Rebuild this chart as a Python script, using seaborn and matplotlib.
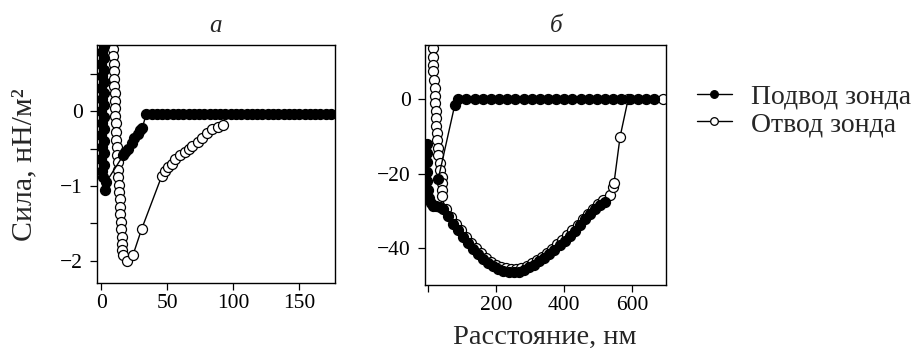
import numpy as np
import pandas as pd
import seaborn as sns
import matplotlib
matplotlib.use("Agg")
import matplotlib.pyplot as plt
from matplotlib.lines import Line2D

# ---------------- data: panel a ----------------
# approach (Подвод), flat part, jump and contact column
a_app_x = [174, 170, 166, 162, 158, 154, 150, 146, 142, 138, 134, 130, 126, 122,
           118, 114, 110, 106, 102, 98, 94, 90, 86, 82, 78, 74, 70, 66, 62, 58,
           54, 50, 46, 42, 38, 34,
           31, 29.5, 27.5, 25, 23, 20, 17.8, 16.5, 3.5, 2.7,
           1.5, 0.2, 2.0, 0.0, 1.8, 0.2, 2.0, 0.0, 1.8, 0.2, 2.0, 0.0, 1.8, 0.2,
           2.0, 0.0, 1.8, 0.2, 2.0, 0.0, 1.8, 0.2, 2.0, 1.0, 1.0]
a_app_y = [-0.03, -0.03, -0.03, -0.03, -0.03, -0.03, -0.03, -0.03, -0.03, -0.03,
           -0.03, -0.03, -0.03, -0.03, -0.03, -0.03, -0.03, -0.03, -0.03, -0.03,
           -0.03, -0.03, -0.03, -0.03, -0.03, -0.03, -0.03, -0.03, -0.03, -0.03,
           -0.03, -0.03, -0.03, -0.03, -0.03, -0.03,
           -0.22, -0.25, -0.30, -0.36, -0.43, -0.50, -0.55, -0.59, -0.95, -1.05,
           -0.88, -0.80, -0.72, -0.64, -0.56, -0.48, -0.40, -0.32, -0.24, -0.16,
           -0.08, 0.00, 0.08, 0.16, 0.24, 0.32, 0.40, 0.48, 0.56, 0.64, 0.72,
           0.80, 0.88, 0.96, 1.04]
# retract (Отвод)
a_ret_x = [9.0, 9.1, 9.2, 9.4, 9.5, 9.7, 9.9, 10.1, 10.3, 10.5, 10.7, 11.0, 11.3,
           11.6, 11.9, 12.2, 12.5, 12.8, 13.1, 13.4, 13.7, 14.0, 14.3, 14.6, 14.9,
           15.2, 15.5, 15.8, 16.5, 19.0, 24.0, 30.4, 45.6, 47.8, 50.5, 53.5, 56.0,
           59.5, 63.0, 66.0, 69.0, 73.0, 76.5, 80.0, 84.0, 88.0, 92.0]
a_ret_y = [0.84, 0.74, 0.64, 0.54, 0.44, 0.34, 0.24, 0.14, 0.04, -0.06, -0.16,
           -0.27, -0.38, -0.48, -0.58, -0.68, -0.78, -0.88, -0.98, -1.08, -1.18,
           -1.28, -1.38, -1.48, -1.58, -1.68, -1.78, -1.86, -1.93, -2.01, -1.92,
           -1.58, -0.87, -0.80, -0.75, -0.70, -0.64, -0.59, -0.55, -0.50, -0.46,
           -0.41, -0.35, -0.29, -0.24, -0.21, -0.18]

# ---------------- data: panel b ----------------
# approach, segment 1: flat part and jump-in
b_app1_x = [665, 641, 617, 593, 569, 545, 521, 497, 473, 449, 425, 401, 377, 353,
            329, 305, 281, 257, 233, 209, 185, 161, 137, 113, 89, 79, 30]
b_app1_y = [0.1, 0.1, 0.1, 0.1, 0.1, 0.1, 0.1, 0.1, 0.1, 0.1, 0.1, 0.1, 0.1, 0.1,
            0.1, 0.1, 0.1, 0.1, 0.1, 0.1, 0.1, 0.1, 0.1, 0.1, 0.1, -1.5, -21.5]
# approach, segment 2: contact column and adhesion well
b_app2_x = [-3, -3, -3, -2, -2, 0, 3, 8, 15, 25, 35,
            45, 60, 74, 89, 104, 118, 133, 148, 162, 177, 192, 207, 222, 237, 252,
            267, 282, 297, 312, 327, 342, 357, 372, 387, 402, 417, 432, 447, 462,
            477, 492, 507, 522]
b_app2_y = [-12.0, -14.5, -17.0, -19.5, -22.0, -24.5, -26.5, -28.0, -28.6, -28.8,
            -29.0,
            -29.5, -31.5, -33.4, -35.2, -37.0, -38.7, -40.3, -41.7, -42.9, -44.0,
            -44.9, -45.6, -46.1, -46.4, -46.5, -46.3, -45.9, -45.2, -44.4, -43.5,
            -42.6, -41.5, -40.4, -39.2, -38.0, -36.7, -35.4, -33.8, -32.3, -30.8,
            -29.6, -28.5, -27.7]
# retract
b_ret_x = [16, 16, 16, 16, 17, 21, 21, 21, 25, 25, 25, 27, 27, 30, 30, 35, 35, 40,
           40, 42, 40,
           52, 67, 82, 96, 111, 126, 140, 155, 170, 185, 200, 215, 230, 245, 260,
           275, 290, 305, 320, 335, 350, 365, 380, 395, 410, 425, 440, 455, 470,
           485, 500, 515, 535, 545, 547, 565, 589, 692]
b_ret_y = [13.6, 11.4, 9.2, 7.4, 5.2, 3.0, 0.9, -1.0, -3.3, -5.1, -7.3, -9.1, -10.9,
           -13.2, -15.0, -17.2, -19.0, -20.8, -22.6, -24.3, -26.1,
           -29.6, -31.6, -33.5, -35.2, -37.0, -38.6, -40.1, -41.4, -42.6, -43.6,
           -44.4, -45.0, -45.4, -45.6, -45.6, -45.3, -44.8, -44.0, -43.2, -42.3,
           -41.3, -40.2, -39.0, -37.8, -36.5, -35.2, -33.8, -32.3, -30.8, -29.5,
           -28.2, -27.1, -25.8, -23.5, -22.6, -10.1, 0.1, 0.1]

a_xticks = [0, 50, 100, 150]
a_xticklabels = ["0", "50", "100", "150"]
a_yticks = [-2, -1.5, -1, -0.5, 0, 0.5]
a_yticklabels = ["\u22122", "", "\u22121", "", "0", ""]
b_xticks = [0, 200, 400, 600]
b_xticklabels = ["", "200", "400", "600"]
b_yticks = [-40, -20, 0]
b_yticklabels = ["\u221240", "\u221220", "0"]

titles = ["а", "б"]
ylabel = "Сила, нН/м²"
xlabel = "Расстояние, нм"
legend_labels = ["Подвод зонда", "Отвод зонда"]

# ---------------- style ----------------
sns.set_theme(style="ticks")
plt.rcParams["font.family"] = ["Liberation Serif", "DejaVu Serif"]
plt.rcParams["axes.unicode_minus"] = True

W, H = 921, 358
fig = plt.figure(figsize=(W / 100, H / 100), dpi=100)


def px_axes(l, r, t, b):
    return fig.add_axes([l / W, 1 - b / H, (r - l) / W, (b - t) / H])


ax_a = px_axes(96.7, 335, 45, 283)
ax_b = px_axes(425, 666, 45, 285)

MS = 7.2
common = dict(sort=False, estimator=None, color="black", marker="o",
              markersize=MS, markeredgecolor="black", markeredgewidth=0.9,
              linewidth=1.0, legend=False)


def draw(ax, x, y, filled, z):
    sns.lineplot(x=x, y=y, ax=ax, markerfacecolor="black" if filled else "white",
                 zorder=z, **common)


draw(ax_a, a_ret_x, a_ret_y, False, 2)
draw(ax_a, a_app_x, a_app_y, True, 3)
draw(ax_b, b_ret_x, b_ret_y, False, 2)
draw(ax_b, b_app1_x, b_app1_y, True, 3)
draw(ax_b, b_app2_x, b_app2_y, True, 3)

ax_a.set_xlim(-3.6, 177)
ax_a.set_ylim(-2.30, 0.89)
ax_b.set_xlim(-8.8, 700)
ax_b.set_ylim(-49.9, 14.5)

ax_a.set_xticks(a_xticks, a_xticklabels)
ax_a.set_yticks(a_yticks, a_yticklabels)
ax_b.set_xticks(b_xticks, b_xticklabels)
ax_b.set_yticks(b_yticks, b_yticklabels)

for ax in (ax_a, ax_b):
    ax.set_xlabel("")
    ax.set_ylabel("")
    for s in ax.spines.values():
        s.set_visible(True)
        s.set_linewidth(1.0)
        s.set_color("black")
    ax.tick_params(axis="both", direction="out", length=5, width=0.9,
                   labelsize=15.5, colors="black")
    ax.tick_params(axis="y", pad=5)
    ax.tick_params(axis="x", pad=3)

ax_a.text(0.5, 1.035, titles[0], transform=ax_a.transAxes, ha="center",
          va="bottom", fontsize=18, style="italic")
ax_b.text(0.544, 1.035, titles[1], transform=ax_b.transAxes, ha="center",
          va="bottom", fontsize=18, style="italic")

fig.text(24 / W, 1 - 165 / H, ylabel, rotation=90, ha="center", va="center",
         fontsize=21.5)
fig.text(545 / W, 1 - 337 / H, xlabel, ha="center", va="center", fontsize=20.5)

LMS = 5.5
handles = [
    Line2D([], [], color="black", marker="o", markersize=LMS, markerfacecolor="black",
           markeredgecolor="black", markeredgewidth=0.9, linewidth=1.0),
    Line2D([], [], color="black", marker="o", markersize=LMS, markerfacecolor="white",
           markeredgecolor="black", markeredgewidth=0.9, linewidth=1.0),
]
fig.legend(handles, legend_labels, loc="upper left",
           bbox_to_anchor=(697 / W, 1 - 84 / H), frameon=False, fontsize=20,
           handlelength=1.25, handletextpad=0.7, labelspacing=0.08,
           borderpad=0, borderaxespad=0)

fig.savefig("out.png", dpi=100)
